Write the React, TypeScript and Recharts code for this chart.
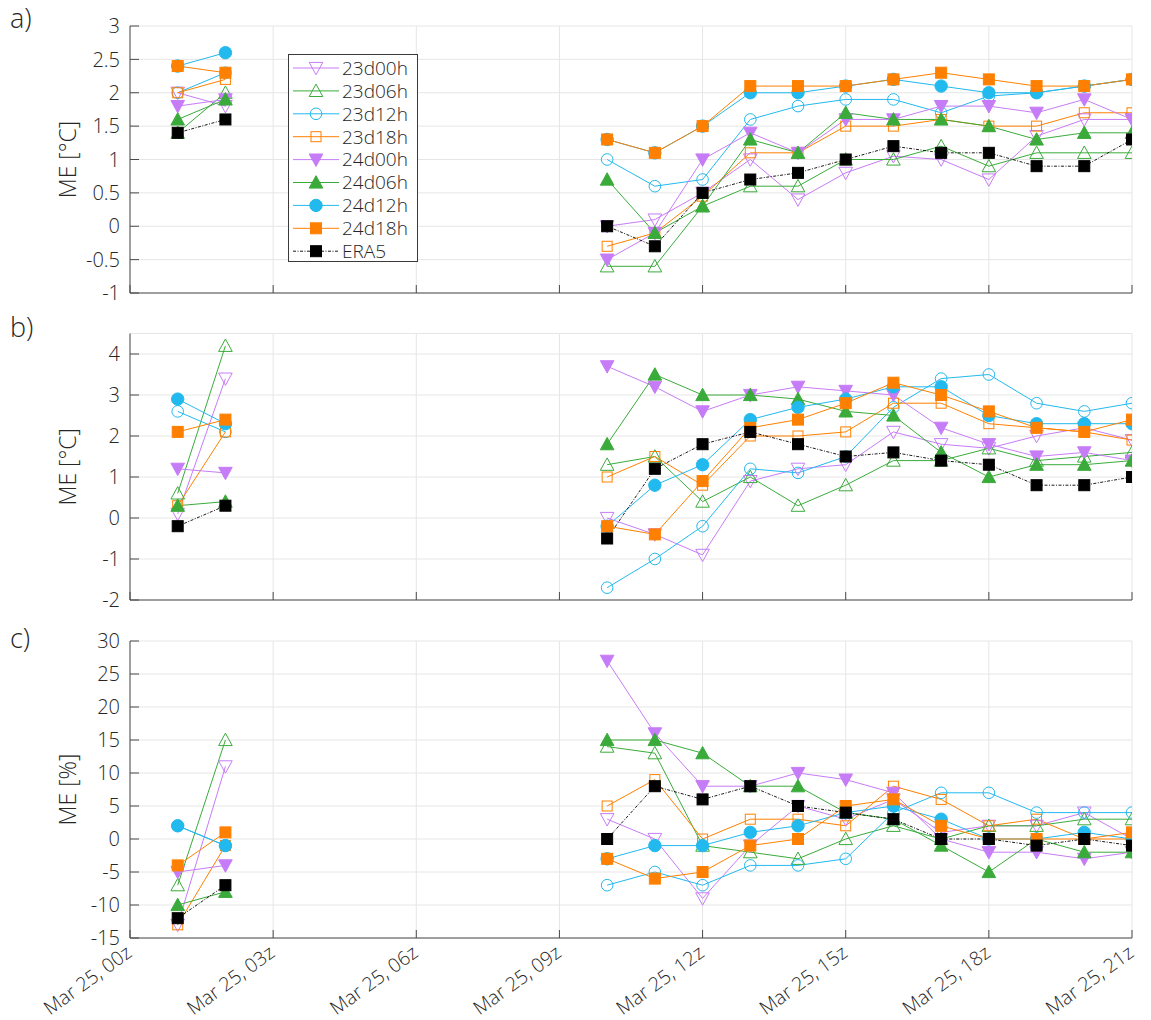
import React from 'react';
import { LineChart, Line, XAxis, YAxis, CartesianGrid, ReferenceLine, Legend } from 'recharts';

// ---------- data ----------
const HOURS = [1, 2, 10, 11, 12, 13, 14, 15, 16, 17, 18, 19, 20, 21];
const X_TICKS = [0, 3, 6, 9, 12, 15, 18, 21];
const X_TICK_LABELS = ['Mar 25, 00z', 'Mar 25, 03z', 'Mar 25, 06z', 'Mar 25, 09z', 'Mar 25, 12z', 'Mar 25, 15z', 'Mar 25, 18z', 'Mar 25, 21z'];
const SERIES_NAMES = ['23d00h', '23d06h', '23d12h', '23d18h', '24d00h', '24d06h', '24d12h', '24d18h', 'ERA5'];

const A_TICKS = [-1, -0.5, 0, 0.5, 1, 1.5, 2, 2.5, 3];
const B_TICKS = [-2, -1, 0, 1, 2, 3, 4];
const C_TICKS = [-15, -10, -5, 0, 5, 10, 15, 20, 25, 30];

// panel a) ME [°C]
const A_23d00h = [2.0, 1.8, 0.0, 0.1, 0.5, 1.0, 0.4, 0.8, 1.05, 1.0, 0.7, 1.35, 1.6, 1.6];
const A_23d06h = [1.4, 2.0, -0.6, -0.6, 0.3, 0.6, 0.6, 1.0, 1.0, 1.2, 0.9, 1.1, 1.1, 1.1];
const A_23d12h = [2.0, 2.3, 1.0, 0.6, 0.7, 1.6, 1.8, 1.9, 1.9, 1.7, 1.95, 2.0, 2.1, 2.2];
const A_23d18h = [2.0, 2.2, -0.3, -0.1, 0.45, 1.1, 1.1, 1.5, 1.5, 1.6, 1.5, 1.5, 1.7, 1.7];
const A_24d00h = [1.8, 1.9, -0.5, -0.1, 1.0, 1.4, 1.1, 1.6, 1.6, 1.8, 1.8, 1.7, 1.9, 1.6];
const A_24d06h = [1.6, 1.9, 0.7, -0.1, 0.3, 1.3, 1.1, 1.7, 1.6, 1.6, 1.5, 1.3, 1.4, 1.4];
const A_24d12h = [2.4, 2.6, 1.3, 1.1, 1.5, 2.0, 2.0, 2.1, 2.2, 2.1, 2.0, 2.0, 2.1, 2.2];
const A_24d18h = [2.4, 2.3, 1.3, 1.1, 1.5, 2.1, 2.1, 2.1, 2.2, 2.3, 2.2, 2.1, 2.1, 2.2];
const A_ERA5 = [1.4, 1.6, 0.0, -0.3, 0.5, 0.7, 0.8, 1.0, 1.2, 1.1, 1.1, 0.9, 0.9, 1.3];

// panel b) ME [°C]
const B_23d00h = [0.1, 3.4, 0.0, -0.4, -0.9, 0.9, 1.2, 1.3, 2.1, 1.8, 1.7, 2.0, 2.2, 1.9];
const B_23d06h = [0.6, 4.2, 1.3, 1.5, 0.4, 1.0, 0.3, 0.8, 1.4, 1.4, 1.7, 1.4, 1.5, 1.6];
const B_23d12h = [2.6, 2.1, -1.7, -1.0, -0.2, 1.2, 1.1, 1.5, 2.7, 3.4, 3.5, 2.8, 2.6, 2.8];
const B_23d18h = [0.3, 2.1, 1.0, 1.5, 0.8, 2.0, 2.0, 2.1, 2.8, 2.8, 2.3, 2.2, 2.1, 1.9];
const B_24d00h = [1.2, 1.1, 3.7, 3.2, 2.6, 3.0, 3.2, 3.1, 3.0, 2.2, 1.8, 1.5, 1.6, 1.4];
const B_24d06h = [0.3, 0.4, 1.8, 3.5, 3.0, 3.0, 2.9, 2.6, 2.5, 1.6, 1.0, 1.3, 1.3, 1.4];
const B_24d12h = [2.9, 2.3, -0.2, 0.8, 1.3, 2.4, 2.7, 2.9, 3.2, 3.2, 2.5, 2.3, 2.3, 2.3];
const B_24d18h = [2.1, 2.4, -0.2, -0.4, 0.9, 2.2, 2.4, 2.8, 3.3, 3.0, 2.6, 2.2, 2.1, 2.4];
const B_ERA5 = [-0.2, 0.3, -0.5, 1.2, 1.8, 2.1, 1.8, 1.5, 1.6, 1.4, 1.3, 0.8, 0.8, 1.0];

// panel c) ME [%]
const C_23d00h = [-13, 11, 3, 0, -9, -1, 5, 3, 6, 1, 2, 2, 4, 0];
const C_23d06h = [-7, 15, 14, 13, -1, -2, -3, 0, 2, 0, 2, 2, 3, 3];
const C_23d12h = [2, -1, -7, -5, -7, -4, -4, -3, 4, 7, 7, 4, 4, 4];
const C_23d18h = [-13, -1, 5, 9, 0, 3, 3, 2, 8, 6, 2, 3, 0, 0];
const C_24d00h = [-5, -4, 27, 16, 8, 8, 10, 9, 7, 0, -2, -2, -3, -2];
const C_24d06h = [-10, -8, 15, 15, 13, 8, 8, 4, 3, -1, -5, 0, -2, -2];
const C_24d12h = [2, -1, -3, -1, -1, 1, 2, 4, 5, 3, 0, 0, 1, 0];
const C_24d18h = [-4, 1, -3, -6, -5, -1, 0, 5, 6, 2, 0, 0, 0, 1];
const C_ERA5 = [-12, -7, 0, 8, 6, 8, 5, 4, 3, 0, 0, -1, 0, -1];

// ---------- styles ----------
const FONT = '"Open Sans", "Noto Sans", sans-serif';
const WEIGHT = 300;
const TEXT = '#262626';
const AXIS = '#4a4a4a';
const GRID = '#e6e6e6';
const PURPLE = '#c77cf7';
const GREEN = '#3aab3a';
const CYAN = '#22b9ee';
const ORANGE = '#ff8000';

type Style = { color: string; shape: string; filled: boolean; dash?: string; width: number };
const STYLES: Record<string, Style> = {
  '23d00h': { color: PURPLE, shape: 'down', filled: false, width: 1 },
  '23d06h': { color: GREEN, shape: 'up', filled: false, width: 1 },
  '23d12h': { color: CYAN, shape: 'circle', filled: false, width: 1 },
  '23d18h': { color: ORANGE, shape: 'square', filled: false, width: 1 },
  '24d00h': { color: PURPLE, shape: 'down', filled: true, width: 1 },
  '24d06h': { color: GREEN, shape: 'up', filled: true, width: 1 },
  '24d12h': { color: CYAN, shape: 'circle', filled: true, width: 1 },
  '24d18h': { color: ORANGE, shape: 'square', filled: true, width: 1 },
  ERA5: { color: '#000000', shape: 'square', filled: true, dash: '3 1.5 1 1.5', width: 0.9 },
};

function buildRows(values: Record<string, number[]>) {
  const rows: any[] = [];
  HOURS.forEach((h, i) => {
    if (i > 0 && h - HOURS[i - 1] > 1) rows.push({ hour: (h + HOURS[i - 1]) / 2 });
    const row: any = { hour: h };
    SERIES_NAMES.forEach((n) => (row[n] = values[n][i]));
    rows.push(row);
  });
  return rows;
}

const ROWS_A = buildRows({ '23d00h': A_23d00h, '23d06h': A_23d06h, '23d12h': A_23d12h, '23d18h': A_23d18h, '24d00h': A_24d00h, '24d06h': A_24d06h, '24d12h': A_24d12h, '24d18h': A_24d18h, ERA5: A_ERA5 });
const ROWS_B = buildRows({ '23d00h': B_23d00h, '23d06h': B_23d06h, '23d12h': B_23d12h, '23d18h': B_23d18h, '24d00h': B_24d00h, '24d06h': B_24d06h, '24d12h': B_24d12h, '24d18h': B_24d18h, ERA5: B_ERA5 });
const ROWS_C = buildRows({ '23d00h': C_23d00h, '23d06h': C_23d06h, '23d12h': C_23d12h, '23d18h': C_23d18h, '24d00h': C_24d00h, '24d06h': C_24d06h, '24d12h': C_24d12h, '24d18h': C_24d18h, ERA5: C_ERA5 });

function Marker({ cx, cy, st }: { cx: any; cy: any; st: Style }) {
  if (cx == null || cy == null || !isFinite(cx) || !isFinite(cy)) return null;
  const fill = st.filled ? st.color : 'none';
  const common = { fill, stroke: st.color, strokeWidth: 1 };
  if (st.shape === 'circle') return <circle cx={cx} cy={cy} r={st.filled ? 6.2 : 5.8} {...common} />;
  if (st.shape === 'square') {
    const s = st.filled ? 11 : 10;
    return <rect x={cx - s / 2} y={cy - s / 2} width={s} height={s} {...common} />;
  }
  if (st.shape === 'up') {
    const pts = `${cx},${cy - 6.8} ${cx - 6.8},${cy + 5.6} ${cx + 6.8},${cy + 5.6}`;
    return <polygon points={pts} {...common} />;
  }
  const pts = `${cx},${cy + 6.8} ${cx - 6.8},${cy - 5.6} ${cx + 6.8},${cy - 5.6}`;
  return <polygon points={pts} {...common} />;
}

const YTick = (props: any) => {
  const { x, y, payload } = props;
  return (
    <g>
      <line x1={x} y1={y} x2={x + 9} y2={y} stroke={AXIS} strokeWidth={1} />
      <text x={x - 10} y={y} dy="0.36em" textAnchor="end" fontSize={20} fontWeight={WEIGHT} fill={TEXT} fontFamily={FONT}>
        {String(payload.value)}
      </text>
    </g>
  );
};

const makeXTick = (showLabel: boolean) => (props: any) => {
  const { x, y, payload } = props;
  const idx = X_TICKS.indexOf(payload.value);
  const ax = x - 1;
  const ay = y + 12;
  return (
    <g>
      <line x1={x} y1={y} x2={x} y2={y - 8} stroke={AXIS} strokeWidth={1} />
      {showLabel && (
        <text x={ax} y={ay} dy="0.35em" textAnchor="end" transform={`rotate(-36, ${ax}, ${ay})`} fontSize={19.5} fontWeight={WEIGHT} fill={TEXT} fontFamily={FONT}>
          {X_TICK_LABELS[idx]}
        </text>
      )}
    </g>
  );
};

const renderLegend = () => (
  <svg width={131} height={209} style={{ display: 'block' }}>
    <rect x={0.5} y={0.5} width={129} height={207} fill="#ffffff" stroke="#3a3a3a" strokeWidth={1} />
    {SERIES_NAMES.map((n, i) => {
      const cy = 14 + i * 22.9;
      const st = STYLES[n];
      return (
        <g key={n}>
          <line x1={5} x2={51} y1={cy} y2={cy} stroke={st.color} strokeWidth={st.width} strokeDasharray={st.dash} />
          <Marker cx={28} cy={cy} st={st} />
          <text x={54} y={cy} dy="0.36em" fontSize={19} fontWeight={WEIGHT} fill={TEXT} fontFamily={FONT}>
            {n}
          </text>
        </g>
      );
    })}
  </svg>
);

type PanelProps = {
  rows: any[];
  ticks: number[];
  domain: [number, number];
  yLabel: string;
  top: number;
  height: number;
  marginTop: number;
  xAxisHeight: number;
  showXLabels: boolean;
  topBorder?: number;
  legend?: boolean;
};

function Panel({ rows, ticks, domain, yLabel, top, height, marginTop, xAxisHeight, showXLabels, topBorder, legend }: PanelProps) {
  return (
    <div style={{ position: 'absolute', left: 0, top, width: 1151, height }}>
      <LineChart width={1151} height={height} data={rows} margin={{ top: marginTop, right: 19, bottom: 0, left: 0 }} style={{ overflow: 'visible' }}>
        <CartesianGrid stroke={GRID} strokeWidth={1} />
        {topBorder !== undefined && <ReferenceLine y={topBorder} stroke={GRID} strokeWidth={1} />}
        <XAxis
          dataKey="hour"
          type="number"
          domain={[0, 21]}
          ticks={X_TICKS}
          interval={0}
          allowDataOverflow
          height={xAxisHeight}
          axisLine={{ stroke: AXIS, strokeWidth: 1 }}
          tickLine={false}
          tickSize={0}
          tickMargin={0}
          tick={makeXTick(showXLabels)}
        />
        <YAxis
          type="number"
          domain={domain}
          ticks={ticks}
          interval={0}
          allowDataOverflow
          width={130}
          axisLine={{ stroke: AXIS, strokeWidth: 1 }}
          tickLine={false}
          tickSize={0}
          tickMargin={0}
          tick={YTick}
          label={{
            content: (p: any) => {
              const vb = p.viewBox || { y: marginTop, height: height - marginTop - xAxisHeight };
              const cy = vb.y + vb.height / 2;
              return (
                <text x={68} y={cy} transform={`rotate(-90, 68, ${cy})`} textAnchor="middle" dy="0.36em" fontSize={23} fontWeight={WEIGHT} fill={TEXT} fontFamily={FONT}>
                  {yLabel}
                </text>
              );
            },
          }}
        />
        {SERIES_NAMES.map((n) => {
          const st = STYLES[n];
          return (
            <Line
              key={n}
              dataKey={n}
              name={n}
              type="linear"
              stroke={st.color}
              strokeWidth={st.width}
              strokeDasharray={st.dash}
              connectNulls={false}
              isAnimationActive={false}
              activeDot={false}
              dot={(p: any) => <Marker key={`${n}-${p.index}`} cx={p.cx} cy={p.cy} st={st} />}
            />
          );
        })}
        {legend && (
          <Legend
            layout="vertical"
            align="center"
            verticalAlign="middle"
            content={renderLegend}
            wrapperStyle={{ left: 288, top: 54, width: 131, height: 209 }}
          />
        )}
      </LineChart>
    </div>
  );
}

export default function App() {
  return (
    <div style={{ position: 'absolute', left: 0, top: 0, width: 1151, height: 1020, background: '#ffffff', fontFamily: FONT }}>
      <Panel rows={ROWS_A} ticks={A_TICKS} domain={[-1, 3]} yLabel="ME [°C]" top={0} height={310} marginTop={26} xAxisHeight={17} showXLabels={false} legend />
      <Panel rows={ROWS_B} ticks={B_TICKS} domain={[-2, 4.5]} yLabel="ME [°C]" top={310} height={310} marginTop={23.5} xAxisHeight={20} showXLabels={false} topBorder={4.5} />
      <Panel rows={ROWS_C} ticks={C_TICKS} domain={[-15, 30]} yLabel="ME [%]" top={620} height={400} marginTop={21} xAxisHeight={82} showXLabels />
      <svg width={1151} height={1020} style={{ position: 'absolute', left: 0, top: 0, pointerEvents: 'none' }}>
        <text x={10} y={28} fontSize={27} fontWeight={WEIGHT} fill={TEXT} fontFamily={FONT}>a)</text>
        <text x={10} y={337} fontSize={27} fontWeight={WEIGHT} fill={TEXT} fontFamily={FONT}>b)</text>
        <text x={10} y={648} fontSize={27} fontWeight={WEIGHT} fill={TEXT} fontFamily={FONT}>c)</text>
      </svg>
    </div>
  );
}
